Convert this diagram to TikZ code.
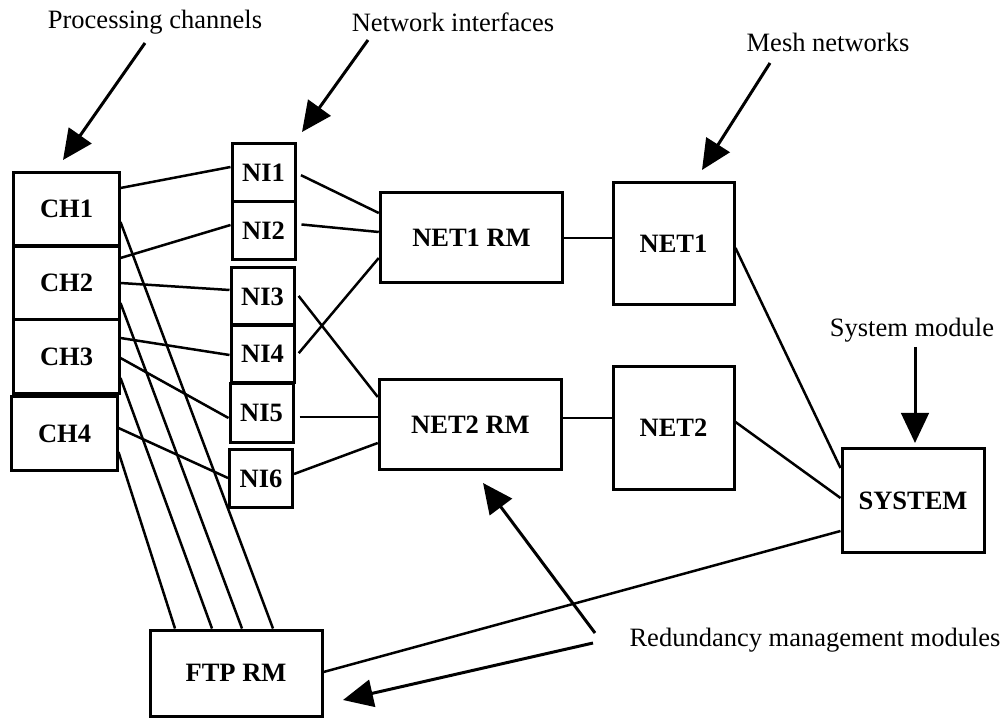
\documentclass[tikz,border=0pt]{standalone}
\usepackage{fontspec}
\setmainfont{Liberation Serif}
\usetikzlibrary{arrows.meta,positioning}

\begin{document}
\begin{tikzpicture}
[x=0.4pt,y=-0.4pt,
 block/.style={draw=black,line width=1.2pt,inner sep=0pt,font=\fontsize{10.6}{12}\selectfont\bfseries},
 chbox/.style={block,minimum width=42pt,minimum height=29.4pt},
 nibox/.style={block,minimum width=25.2pt,minimum height=23.2pt},
 rmbox/.style={block,minimum width=73pt,minimum height=36pt},
 netbox/.style={block,minimum width=48.4pt,minimum height=48.8pt},
 note/.style={inner sep=0pt,font=\fontsize{10.6}{12}\selectfont},
 link/.style={line width=1pt},
 pointer/.style={line width=1.2pt,-{Triangle[length=12pt,width=11pt]}}]
\useasboundingbox (0,0) rectangle (1005,718);

% channels and network interfaces
\node[chbox] (ch1) at (66.5,209) {CH1};
\node[chbox] (ch2) at (66.5,283) {CH2};
\node[chbox] (ch3) at (66.5,356.5) {CH3};
\node[chbox] (ch4) at (64.5,433.5) {CH4};
\node[nibox] (ni1) at (263.5,172.5) {NI1};
\node[nibox] (ni2) at (263.5,231) {NI2};
\node[nibox] (ni3) at (262.5,296.5) {NI3};
\node[nibox] (ni4) at (262.5,354) {NI4};
\node[nibox] (ni5) at (261.5,413) {NI5};
\node[nibox] (ni6) at (261,478.5) {NI6};

% redundancy management, networks, system
\node[rmbox] (rm1) at (471.5,238) {NET1 RM};
\node[rmbox] (rm2) at (470.5,424.5) {NET2 RM};
\node[netbox] (net1) at (673.5,244) {NET1};
\node[netbox] (net2) at (673.5,428) {NET2};
\node[block,minimum width=56.8pt,minimum height=41.2pt] (sys) at (913,500.5) {SYSTEM};
\node[block,minimum width=68.8pt,minimum height=34.4pt] (ftp) at (236,673) {FTP RM};

% captions
\node[note] (pclab) at (155,22) {Processing channels};
\node[note] (nilab) at (453,22) {Network interfaces};
\node[note] (meshlab) at (828,42) {Mesh networks};
\node[note] (syslab) at (912,330) {System module};
\node[note] (rmlab) at (815,640) {Redundancy management modules};

\coordinate (pctail) at (145,43);
\coordinate (pctip) at (63,160);
\coordinate (nitail) at (368,40);
\coordinate (nitip) at (302,132);
\coordinate (meshtail) at (770,63);
\coordinate (meshtip) at (702,170);
\coordinate (systail) at (915,347);
\coordinate (systip) at (915,443);
\coordinate (rmtailA) at (595,633);
\coordinate (rmtipA) at (483,483);
\coordinate (rmtailB) at (593,643);
\coordinate (rmtipB) at (343,700);

\draw [link] (ch1.east |- 0,188) -- (ni1.west |- 0,167);
\draw [link] (ch2.east |- 0,258) -- (ni2.west |- 0,225);
\draw [link] (ch2.east |- 0,283) -- (ni3.west |- 0,290);
\draw [link] (ch3.east |- 0,338) -- (ni4.west |- 0,355);
\draw [link] (ch3.east |- 0,358) -- (ni5.west |- 0,418);
\draw [link] (ch4.east |- 0,428) -- (ni6.west |- 0,478);

\draw [link] (ch1.east |- 0,222) -- (ftp.north -| 273,0);
\draw [link] (ch2.east |- 0,303) -- (ftp.north -| 242,0);
\draw [link] (ch3.east |- 0,378) -- (ftp.north -| 212,0);
\draw [link] (ch4.east |- 0,452) -- (ftp.north -| 175,0);

\draw [link,shorten <=2pt] (ni1.east |- 0,173) -- (rm1.west |- 0,213);
\draw [link,shorten <=2pt] (ni2.east |- 0,224) -- (rm1.west |- 0,232);
\draw [link,shorten <=2pt] (ni4.east |- 0,357) -- (rm1.west |- 0,258);
\draw [link,shorten <=2pt] (ni3.east |- 0,292) -- (rm2.west |- 0,397);
\draw [link,shorten <=2pt] (ni5.east |- 0,417) -- (rm2.west |- 0,417);
\draw [link] (ni6.east |- 0,474) -- (rm2.west |- 0,443);

\draw [link] (rm1.east) -- (net1.west |- rm1.east);
\draw [link] (rm2.east |- 0,418) -- (net2.west |- 0,418);
\draw [link] (net1.east |- 0,248) -- (sys.west |- 0,468);
\draw [link] (net2.east |- 0,422) -- (sys.west |- 0,498);
\draw [link] (sys.west |- 0,531) -- (ftp.east |- 0,672);

\draw [pointer] (pctail) -- (pctip);
\draw [pointer] (nitail) -- (nitip);
\draw [pointer] (meshtail) -- (meshtip);
\draw [pointer] (systail) -- (systip);
\draw [pointer] (rmtailA) -- (rmtipA);
\draw [pointer] (rmtailB) -- (rmtipB);
\end{tikzpicture}
\end{document}
